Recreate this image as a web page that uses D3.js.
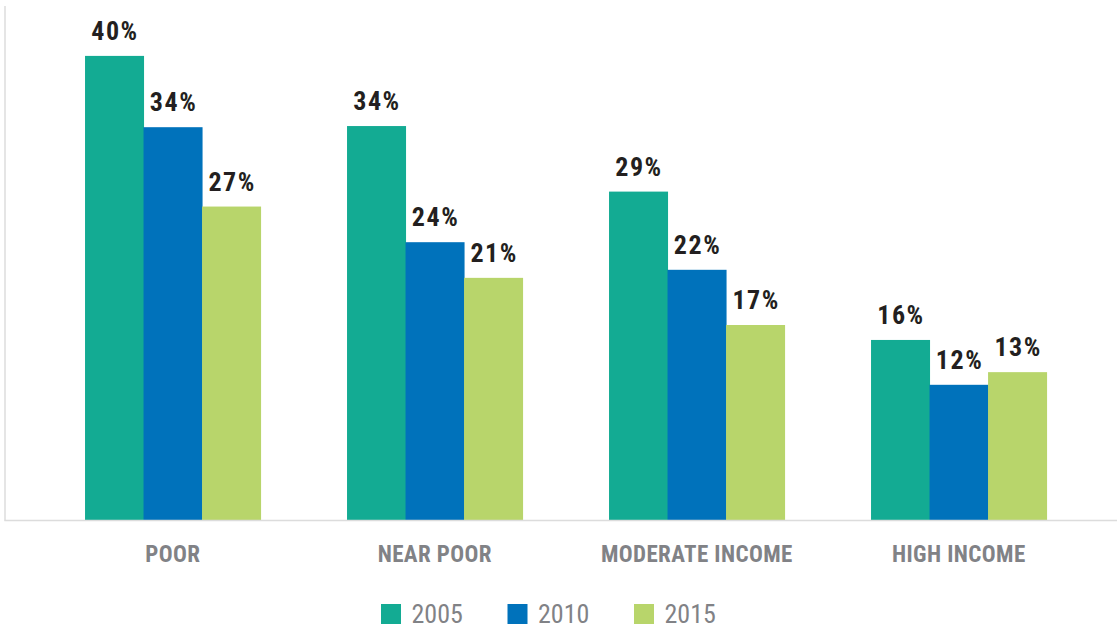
<!DOCTYPE html>
<html>
<head>
<meta charset="utf-8">
<script src="https://cdn.jsdelivr.net/npm/d3@7"></script>
<style>
  html, body { margin: 0; padding: 0; background: #fff; }
  svg { display: block; }
  .f { font-family: "Liberation Sans Narrow", "Arial Narrow", "Roboto Condensed", "Liberation Sans", sans-serif; font-stretch: condensed; }
</style>
</head>
<body>
<svg id="chart" width="1117" height="629"></svg>
<script>
const categories = ["POOR", "NEAR POOR", "MODERATE INCOME", "HIGH INCOME"];
const years = ["2005", "2010", "2015"];
const values2005 = [40.4, 34.3, 28.6, 15.7];
const values2010 = [34.2, 24.2, 21.8, 11.8];
const values2015 = [27.3, 21.1, 17.0, 12.9];
const seriesColors = ["#13ab93", "#0072bb", "#b8d56b"];

const series = [values2005, values2010, values2015];

const svg = d3.select("#chart");
const baseY = 520.5;

const x0 = d3.scaleBand().domain(categories).range([41.8, 1089.8]).paddingInner(0.33).paddingOuter(0.165);
const x1 = d3.scaleBand().domain(years).range([0, x0.bandwidth()]);
const y = d3.scaleLinear().domain([0, 40]).range([baseY, baseY - 460]);

svg.append("line").attr("x1", 5).attr("x2", 5).attr("y1", 6).attr("y2", baseY)
  .attr("stroke", "#dcdcdc").attr("stroke-width", 1.5);

const g = svg.append("g");
categories.forEach((c, ci) => {
  years.forEach((yr, si) => {
    const v = series[si][ci];
    g.append("rect")
      .attr("x", x0(c) + x1(yr))
      .attr("y", y(v))
      .attr("width", x1.bandwidth() + 0.5)
      .attr("height", y(0) - y(v))
      .attr("fill", seriesColors[si]);
    g.append("text")
      .attr("class", "f")
      .attr("x", x0(c) + x1(yr) + x1.bandwidth() / 2 + 0.75)
      .attr("y", y(v) - 16)
      .attr("text-anchor", "middle")
      .attr("font-size", 26)
      .attr("letter-spacing", 1.5)
      .attr("font-weight", "bold")
      .attr("fill", "#231f20")
      .text(d3.format(".0f")(v) + "%");
  });
});

svg.append("line").attr("x1", 4.25).attr("x2", 1117).attr("y1", baseY).attr("y2", baseY)
  .attr("stroke", "#dcdcdc").attr("stroke-width", 1.5);

const xAxis = d3.axisBottom(x0).tickSize(0).tickPadding(0);
const ax = svg.append("g").attr("transform", `translate(0,${baseY})`).call(xAxis);
ax.select(".domain").remove();
ax.selectAll("text")
  .attr("class", "f")
  .attr("dy", null)
  .attr("y", 41.2)
  .attr("font-size", 23)
  .attr("letter-spacing", 0.4)
  .attr("font-weight", "bold")
  .attr("fill", "#818286");

const legendX = d3.scaleOrdinal().domain(years).range([381, 507.5, 634]);
const lg = svg.append("g");
years.forEach((yr, i) => {
  lg.append("rect").attr("x", legendX(yr)).attr("y", 604).attr("width", 20).attr("height", 20)
    .attr("fill", seriesColors[i]);
  lg.append("text").attr("class", "f").attr("x", legendX(yr) + 30.5).attr("y", 623)
    .attr("font-size", 26).attr("fill", "#818286").text(yr);
});
</script>
</body>
</html>
